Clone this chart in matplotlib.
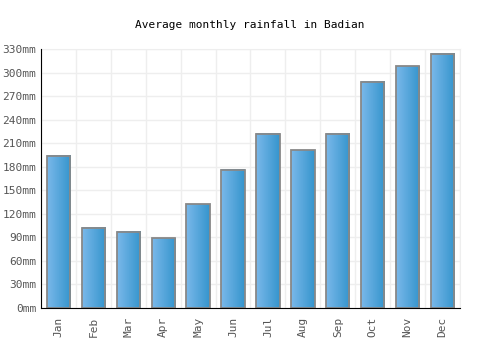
import numpy as np
import matplotlib
matplotlib.use("Agg")
import matplotlib.pyplot as plt
from matplotlib.colors import LinearSegmentedColormap

months = ["Jan", "Feb", "Mar", "Apr", "May", "Jun",
          "Jul", "Aug", "Sep", "Oct", "Nov", "Dec"]
rainfall = [194, 102, 97, 89, 132, 176, 222, 201, 222, 288, 308, 324]
yticks = list(range(0, 331, 30))

plt.rcParams["font.family"] = "DejaVu Sans Mono"

fig = plt.figure(figsize=(5, 3.5), dpi=100)
ax = fig.add_axes([0.082, 0.12, 0.838, 0.74])

x = np.arange(len(months))
width = 0.67
bars = ax.bar(x, rainfall, width=width, facecolor="none",
              edgecolor="#888888", linewidth=1.3, zorder=3)

# horizontal gradient fill, light left -> darker right
cmap = LinearSegmentedColormap.from_list("rain", ["#7ab8ea", "#3595cd"])
grad = np.linspace(0, 1, 64).reshape(1, -1)
for b in bars:
    x0, y0 = b.get_x(), b.get_y()
    ax.imshow(grad, cmap=cmap, aspect="auto", zorder=2,
              extent=(x0, x0 + b.get_width(), y0, y0 + b.get_height()))

ax.set_xlim(-0.5, len(months) - 0.5)
ax.set_ylim(0, 330)
ax.set_yticks(yticks)
ax.set_yticklabels([f"{v}mm" for v in yticks])
ax.set_xticks(x)
ax.set_xticklabels(months, rotation=90)
ax.set_xticks(np.arange(-0.5, len(months)), minor=True)
ax.tick_params(axis="both", which="both", length=0, labelsize=8,
               labelcolor="#555555")
ax.tick_params(axis="x", pad=6)

ax.grid(True, axis="y", color="#eeeeee", linewidth=1, zorder=0)
ax.grid(True, axis="x", which="minor", color="#eeeeee", linewidth=1, zorder=0)
ax.set_axisbelow(True)

for side in ("top", "right"):
    ax.spines[side].set_color("#eeeeee")
for side in ("left", "bottom"):
    ax.spines[side].set_color("black")
    ax.spines[side].set_zorder(4)

fig.text(0.5, 0.928, "Average monthly rainfall in Badian", ha="center",
         va="center", fontsize=8, color="black")

fig.savefig("out.png", dpi=100)
